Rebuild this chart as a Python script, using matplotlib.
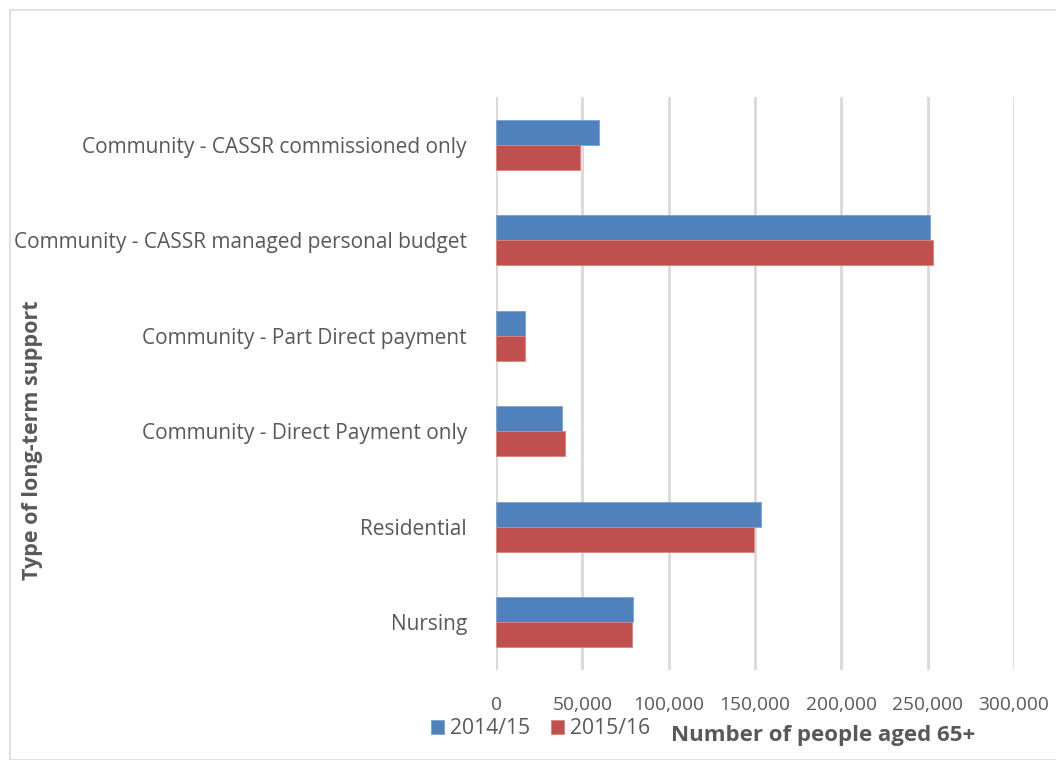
import numpy as np
import matplotlib.pyplot as plt
from matplotlib.patches import Rectangle
from matplotlib.ticker import FuncFormatter

# Categories, top to bottom as shown
categories = ["Community - CASSR commissioned only",
              "Community - CASSR managed personal budget",
              "Community - Part Direct payment",
              "Community - Direct Payment only",
              "Residential",
              "Nursing"]
years = ["2014/15", "2015/16"]
vals_1415 = [59700, 251500, 16800, 38300, 153500, 79200]
vals_1516 = [48900, 253300, 17000, 40000, 149400, 78700]
xticks = [0, 50000, 100000, 150000, 200000, 250000, 300000]

blue = "#4F81BD"
red = "#C0504D"
txt = "#595959"

plt.rcParams['font.family'] = ['Open Sans', 'DejaVu Sans']

fig = plt.figure(figsize=(10.56, 7.6), dpi=100)
ax = fig.add_axes([496/1056, 1 - 670/760, 518/1056, 573/760])

y = np.arange(len(categories))
h = 0.262
ax.barh(y - h/2, vals_1415, height=h, color=blue, edgecolor="#7da3d4", linewidth=0.6, label=years[0], zorder=3)
ax.barh(y + h/2, vals_1516, height=h, color=red, edgecolor="#d98583", linewidth=0.6, label=years[1], zorder=3)

ax.set_ylim(len(categories) - 0.5, -0.5)
ax.set_xlim(0, 300000)
ax.set_xticks(xticks)
ax.xaxis.set_major_formatter(FuncFormatter(lambda v, p: f"{int(v):,}"))
ax.set_yticks(y)
ax.set_yticklabels(categories)

ax.grid(axis="x", color="#d9d9d9", linewidth=2, zorder=0)
for s in ax.spines.values():
    s.set_visible(False)
ax.tick_params(axis="y", length=0, pad=21, labelsize=15.0, labelcolor=txt)
ax.tick_params(axis="x", length=0, pad=19, labelsize=13.8, labelcolor=txt)

ax.set_xlabel("Number of people aged 65+", fontsize=16, fontweight="bold", color=txt)
ax.xaxis.set_label_coords(0.631, -0.115)
ax.xaxis.label.set_va("center")
ax.set_ylabel("Type of long-term support", fontsize=15.5, fontweight="bold", color=txt)
ax.yaxis.set_label_coords(-0.894, 0.401)
ax.yaxis.label.set_va("center")

fig.legend(loc="center left", bbox_to_anchor=(431/1056, 1 - 729/760), ncol=2, frameon=False,
           fontsize=15.2, labelcolor=txt, handlelength=0.6, handleheight=0.6,
           handletextpad=0.3, columnspacing=1.0, borderaxespad=0, borderpad=0)

# outer chart border
fig.patches.append(Rectangle((10/1056, 0), 1, 1 - 10/760, transform=fig.transFigure,
                             fill=False, edgecolor="#d9d9d9", linewidth=1.2))

fig.savefig("out.png", dpi=100)
